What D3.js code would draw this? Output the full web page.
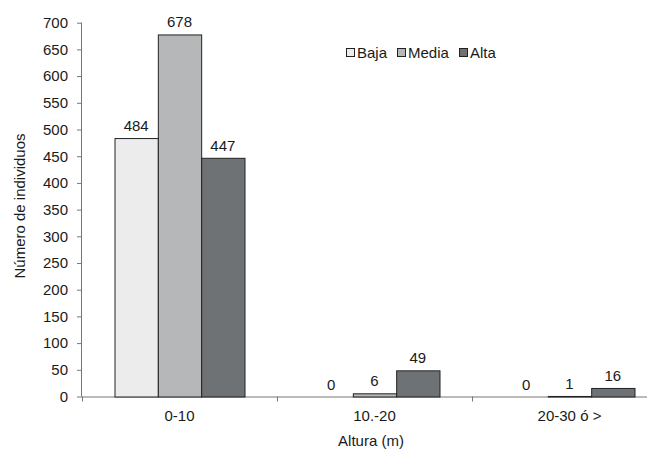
<!DOCTYPE html>
<html><head><meta charset="utf-8">
<script src="https://cdn.jsdelivr.net/npm/d3@7"></script>
<style>
body{margin:0;background:#fff;}
text{font-family:Arial,"Liberation Sans",sans-serif;fill:#1a1a1a;}
</style></head>
<body><svg id="c" width="655" height="451"></svg>
<script>
const categories = ["0-10", "10.-20", "20-30 ó >"];
const series = ["Baja", "Media", "Alta"];
const baja = [484, 0, 0];
const media = [678, 6, 1];
const alta = [447, 49, 16];
const yTicks = [0,50,100,150,200,250,300,350,400,450,500,550,600,650,700];
const colors = ["#ececec", "#b5b7b8", "#6f7274"];

const values = [baja, media, alta];
const svg = d3.select("#c");
const pLeft = 82, pRight = 667, pTop = 22.7, pBottom = 396.5;
const FS = "15px";

const y = d3.scaleLinear().domain([0,700]).range([pBottom, pTop]);
const x0 = d3.scaleBand().domain(categories).range([pLeft, pRight]).padding(0);
const x1 = d3.scaleBand().domain(series).range([x0.bandwidth()/6, x0.bandwidth()*5/6]).padding(0);

// y axis
const ya = svg.append("g").attr("transform", `translate(${pLeft},0)`)
  .call(d3.axisLeft(y).tickValues(yTicks).tickSize(5).tickPadding(9));
ya.select(".domain").attr("stroke","#777").attr("d", `M-0.5,${pTop}V${pBottom}`);
ya.selectAll(".tick line").attr("stroke","#777");
ya.selectAll("text").style("font-size",FS).attr("fill","#1a1a1a").style("font-family","Arial,'Liberation Sans',sans-serif");

// x axis
svg.append("line").attr("x1",pLeft).attr("x2",647).attr("y1",pBottom+0.5).attr("y2",pBottom+0.5).attr("stroke","#777");
const bounds = categories.map(c => x0(c)).concat([x0(categories[categories.length-1]) + x0.bandwidth()]);
svg.selectAll(".xt").data(bounds.filter(b => b < 655)).enter().append("line")
  .attr("x1", d=>d+0.5).attr("x2", d=>d+0.5).attr("y1", pBottom).attr("y2", pBottom+5).attr("stroke","#777");
svg.selectAll(".xl").data(categories).enter().append("text")
  .attr("x", d=> x0(d)+x0.bandwidth()/2).attr("y", pBottom+24)
  .attr("text-anchor","middle").style("font-size",FS).text(d=>d);

// bars
categories.forEach((c, ci) => {
  series.forEach((s, si) => {
    const v = values[si][ci];
    const bx = x0(c) + x1(s);
    if (v > 0) {
      svg.append("rect").attr("x", bx+0.5).attr("y", y(v)+0.5)
        .attr("width", x1.bandwidth()).attr("height", Math.max(0, y(0)-y(v)))
        .attr("fill", colors[si]).attr("stroke","#222").attr("stroke-width",1);
    }
    svg.append("text").attr("x", bx + x1.bandwidth()/2).attr("y", y(v) - 7)
      .attr("text-anchor","middle").style("font-size",FS).text(v);
  });
});

// axis titles
svg.append("text").attr("transform","translate(25,206) rotate(-90)").attr("text-anchor","middle")
  .style("font-size",FS).text("Número de individuos");
svg.append("text").attr("x",371).attr("y",446).attr("text-anchor","middle")
  .style("font-size",FS).text("Altura (m)");

// legend
const legX = [346, 397, 459];
series.forEach((s, i) => {
  svg.append("rect").attr("x", legX[i]+0.5).attr("y", 48.5).attr("width", 8).attr("height", 8)
    .attr("fill", colors[i]).attr("stroke","#222");
  svg.append("text").attr("x", legX[i]+11).attr("y", 58).style("font-size",FS).text(s);
});
</script></body></html>
